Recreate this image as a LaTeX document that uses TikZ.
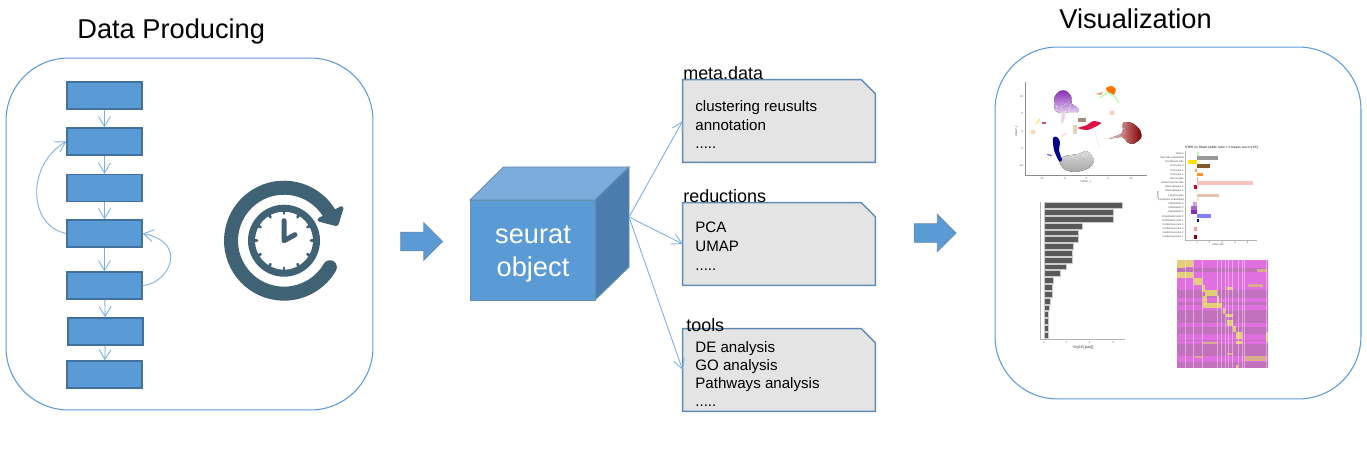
\documentclass[tikz,border=0pt]{standalone}
\usepackage{fontspec}
\setmainfont{Liberation Sans}
\usepackage{tikz}
\usetikzlibrary{arrows.meta}
\usetikzlibrary{positioning}
\usetikzlibrary{shapes.arrows}
\definecolor{boxblue}{HTML}{5B9BD5}
\definecolor{boxedge}{HTML}{41719C}
\definecolor{cubetop}{HTML}{7CACDB}
\definecolor{cubeside}{HTML}{4A7DAE}
\definecolor{notegray}{HTML}{E4E4E4}
\definecolor{noteedge}{HTML}{5F8AB4}
\definecolor{iconblue}{HTML}{3F6274}
\definecolor{heatpink}{HTML}{E070E0}
\definecolor{heatdim}{HTML}{C272BC}
\definecolor{heatyellow}{HTML}{E8DE68}
\definecolor{umappurple}{HTML}{8A30B8}
\definecolor{umapred}{HTML}{DC1444}
\tikzset{panelbox/.style = {draw=boxblue, line width = 0.6pt, rounded corners = 1.25cm, inner sep = 0}}
\tikzset{flowbox/.style = {draw=boxedge, fill=boxblue, line width = 0.8pt, minimum width = 1.5cm, minimum height = 0.54cm, inner sep = 0}}
\tikzset{flowline/.style = {draw=boxblue!80, line width = 0.5pt, -{Straight Barb[length=0.2cm,width=0.24cm]}}}
\tikzset{notebox/.style = {minimum width = 3.84cm, minimum height = 1.64cm, inner sep = 0}}
\tikzset{noteline/.style = {draw=noteedge, fill=notegray, line width = 0.8pt}}
\tikzset{bigarrow/.style = {draw=boxedge!80, fill=boxblue, single arrow, single arrow head extend = 0.19cm, single arrow head indent = 0, minimum height = 0.84cm, inner ysep = 0.18cm, inner xsep = 0}}
\tikzset{headlabel/.style = {anchor = base west, inner sep = 0, font = \fontsize{15.5}{18}\selectfont}}
\tikzset{notetitle/.style = {anchor = base west, inner sep = 0, font = \fontsize{10.2}{12}\selectfont}}
\tikzset{notetext/.style = {anchor = north west, inner sep = 0, align = left, font = \fontsize{8.6}{10.7}\selectfont}}
\tikzset{tinylab/.style = {inner sep = 0, text=black!70, font = \fontsize{1.5}{1.8}\selectfont}}
\begin{document}
\begin{tikzpicture}[x=0.02cm, y=-0.02cm]
    \useasboundingbox (0, 0) rectangle (1367, 456);
    \node [panelbox, minimum width = 7.34cm, minimum height = 7.04cm] (producing) at (189.5, 234) {};
    \node [panelbox, minimum width = 7.32cm, minimum height = 7.04cm] (visual) at (1178, 223) {};
    \node [headlabel] (producingtitle) at (77, 39) {Data Producing};
    \node [headlabel] (visualtitle) at (1059, 29) {Visualization};
    \node [flowbox] (stepa) at (104.5, 95.5) {};
    \node [flowbox] (stepb) at (104.5, 141.5) {};
    \node [flowbox] (stepc) at (104.5, 188) {};
    \node [flowbox] (stepd) at (104.5, 233.5) {};
    \node [flowbox] (stepe) at (104.5, 285.5) {};
    \node [flowbox] (stepf) at (105.5, 331.5) {};
    \node [flowbox] (stepg) at (104.5, 374.5) {};
    \foreach \from/\to in {stepa/stepb, stepb/stepc, stepc/stepd, stepd/stepe, stepe/stepf, stepf/stepg}
      \draw [flowline] (\from) -- (\to);
    \draw [flowline] (stepd.west) .. controls (28, 226) and (26, 165) .. (stepb.west);
    \draw [flowline] (stepe.east) .. controls (168, 284) and (190, 243) .. (stepd.east);
    \begin{scope}[shift={(284, 240.7)}, x=0.02cm, y=0.02cm]
      \draw [iconblue, line width = 0.28cm, line cap = round] (32:53) arc [start angle = 32, end angle = 330, radius = 1.06cm];
      \fill [iconblue, draw=iconblue, line width = 0.08cm, line join = round] (35.5, 21) -- (57.5, 32.5) -- (52.5, 16.5) -- cycle;
      \draw [iconblue, line width = 0.14cm] (0, 0) circle [radius = 0.65cm];
      \foreach \a in {0, 30, ..., 330}
        \draw [iconblue, line width = 0.055cm, line cap = round] (\a:30) -- (\a:27);
      \draw [iconblue, line width = 0.1cm, line cap = round, line join = round] (0, 20) -- (0, 0) -- (11, 6);
    \end{scope}
    \node [bigarrow] (arrowleft) at (417, 241.5) {};
    \node [bigarrow] (arrowright) at (930.5, 233) {};
    \fill [cubetop, draw=boxedge!80, line width = 0.5pt] (470, 200) -- (503.5, 167) -- (629, 167) -- (595, 200) -- cycle;
    \fill [cubeside, draw=boxedge!80, line width = 0.5pt] (595, 200) -- (629, 167) -- (629, 267) -- (595, 300) -- cycle;
    \node [draw=boxedge!80, fill=boxblue, line width = 0.5pt, minimum width = 2.5cm, minimum height = 2cm, inner sep = 0] (cube) at (532.5, 250) {};
    \node [inner sep = 0, align = center, text=white, font = \fontsize{15.5}{18.8}\selectfont] (cubetext) at (533, 254) {seurat\\object};
    \coordinate (cubeout) at (629, 217);
    \node [notebox] (meta) at (779, 121) {};
    \node [notebox] (reduc) at (779, 244) {};
    \node [notebox] (tools) at (779, 370) {};
    \foreach \n in {meta, reduc, tools}
      \draw [noteline] (\n.south west) -- (\n.north west) -- ([xshift=-0.28cm]\n.north east) -- ([yshift=-0.28cm]\n.north east) -- (\n.south east) -- cycle;
    \node [notetitle] (metatitle) at (683, 80) {meta.data};
    \node [notetitle] (reductitle) at (683, 203) {reductions};
    \node [notetitle] (toolstitle) at (686, 331.5) {tools};
    \node [notetext] (metatext) at (695, 100) {clustering reusults\\annotation\\.....};
    \node [notetext] (reductext) at (695, 222) {PCA\\UMAP\\.....};
    \node [notetext, font = \fontsize{8.6}{10.3}\selectfont] (toolstext) at (695, 341) {DE analysis\\GO analysis\\Pathways analysis\\.....};
    \foreach \to in {meta, reduc, tools}
      \draw [flowline, -{Straight Barb[length=0.2cm,width=0.22cm]}] (cubeout) -- (\to.west);
    % umap
    \draw [black!45, line width = 0.3pt] (1025, 82) -- (1025, 175) -- (1147, 175);
    \foreach \v/\y in {10/96.7, 5/114, 0/131.3, -5/148.7, -10/166}
      \node [tinylab, anchor = east] (umapy\v) at (1023.5, \y) {\v};
    \foreach \v/\x in {-10/1041.7, -5/1064.3, 0/1086.3, 5/1108.3, 10/1131}
      \node [tinylab] (umapx\v) at (\x, 179) {\v};
    \node [tinylab] (umapxlab) at (1086, 181.5) {UMAP\_1};
    \node [tinylab, rotate = 90] (umapylab) at (1016.5, 131) {UMAP\_2};
    \fill [top color=umappurple, bottom color=umappurple!25] plot [smooth cycle] coordinates {(1054, 104) (1055, 96) (1060, 91) (1066, 91) (1071, 96) (1072, 104) (1078, 108) (1078, 112) (1070, 112) (1060, 113) (1055, 110)};
    \fill [umappurple!20] plot [smooth cycle] coordinates {(1062, 112) (1066, 112) (1063, 123) (1061, 122)};
    \fill [top color=gray!30, bottom color=gray!70] plot [smooth cycle] coordinates {(1059, 160) (1065, 156) (1078, 154) (1087, 151) (1094, 160) (1089, 168) (1075, 172) (1064, 169)};
    \fill [blue!55!black] plot [smooth cycle] coordinates {(1053, 138) (1057, 137) (1060, 142) (1059, 150) (1062, 160) (1059, 161) (1054, 150)};
    \fill [blue!60] plot [smooth cycle] coordinates {(1047, 154) (1052, 155) (1051, 156) (1047, 155)};
    \fill [left color=red!15, right color=red!50!black] plot [smooth cycle] coordinates {(1123, 123) (1132, 123) (1140, 130) (1141, 138) (1133, 144) (1127, 142) (1122, 137) (1108, 139) (1122, 133)};
    \fill [umapred] plot [smooth cycle] coordinates {(1078, 128) (1087, 125) (1093, 121) (1101, 123) (1095, 127) (1087, 130)};
    \fill [orange!90!red] plot [smooth cycle] coordinates {(1106, 88) (1112, 86) (1116, 90) (1113, 95) (1108, 92)};
    \draw [green!30, line width = 0.8pt] plot [smooth] coordinates {(1100, 98) (1108, 93) (1115, 97) (1119, 103)};
    \fill [brown!70] (1095, 94) -- (1103, 92) -- (1101, 95) -- cycle;
    \fill [red!20] (1112, 113) circle [radius = 2.5];
    \fill [orange!30] (1033, 132) circle [radius = 2.5];
    \draw [yellow!80!orange, line width = 0.4pt] (1036, 124) -- (1040, 119);
    \fill [purple!70] (1042, 122.5) rectangle (1046, 124);
    \fill [brown!50!black, opacity = 0.6] (1078, 118) rectangle (1086, 122);
    \fill [brown!50, opacity = 0.7] (1073, 125) rectangle (1077, 134);
    \draw [red!25, line width = 0.3pt] (1061, 136) -- (1067, 133);
    \draw [red!15, line width = 0.3pt] (1094, 130) -- (1100, 148);
    \pgfmathsetseed{3}
    \foreach \xa/\ya/\w/\h in {1054/102/26/12, 1060/150/34/10, 1108/122/18/24}
      \foreach \i in {1, ..., 50}
        \fill [white, opacity = 0.6] ({\xa + rnd * \w}, {\ya + rnd * \h}) circle [radius = 0.5];
    % bars
    \draw [black!30, line width = 0.5pt] (1040.7, 202) -- (1040.7, 339) -- (1125, 339);
    \foreach \e [count=\i] in {307, 281, 281, 187, 175, 175, 161, 157, 157, 139, 120, 100, 98, 97, 92, 89, 86, 85, 85, 84}
      \fill [black!65, draw=black!20, line width = 0.2pt] (1044, {195 + (31 + 20.47 * (\i - 1) - 8.7) / 3}) rectangle ({1020 + \e / 3}, {195 + (31 + 20.47 * (\i - 1) + 8.7) / 3});
    \foreach \v/\x in {0/1044, 1/1066.7, 2/1089.7, 3/1113}
      \node [tinylab] (barx\v) at (\x, 342.5) {\v};
    \node [tinylab, font = \fontsize{2.3}{2.7}\selectfont] (barxlab) at (1083, 347) {-log10(padj)};
    % odds
    \node [tinylab, font = \bfseries\fontsize{1.8}{2.2}\selectfont] (oddstitle) at (1221.5, 148) {STPK vs Sham (odds ratio > 1 means more STK)};
    \draw [black!30, line width = 0.3pt] (1185.3, 151) -- (1185.3, 240) -- (1256.7, 240);
    \foreach \x/\colr/\lab [count=\i] in {1199/green!30/Visium, 1218/gray!80/Vascular endothelial, 1188.3/yellow!85!orange/Red blood cells, 1210.3/brown!70!black/Pericytes 3, 1195.3/orange!60!pink/Pericytes 2, 1202.7/orange!85/Pericytes 1, 1198/brown!60/Neurocytes, 1253.3/red!25/Mesenchymal cells, 1194/purple!80!red/Macrophages 2, 1196.3/pink!60/Macrophages 1, 1219/brown!45!white/Lymphocytes, 1198.7/orange!25/Lymphatic endothelial, 1192.7/umappurple!45/Fibroblasts 3, 1191/umappurple!75/Fibroblasts 2, 1190.7/umappurple/Fibroblasts 1, 1211.3/blue!50/Endothelial cells 2, 1199/blue!50!black/Endothelial cells 1, 1197/white/Cardiomyocytes 4, 1193.7/red!40/Cardiomyocytes 3, 1197/white/Cardiomyocytes 2, 1194/red!50!black/Cardiomyocytes 1} {
      \fill [\colr] (1197, {153.7 + 4.167 * (\i - 1) - 1.85}) rectangle (\x, {153.7 + 4.167 * (\i - 1) + 1.85});
      \node [tinylab, anchor = east] (oddslab\i) at (1184, {153.7 + 4.167 * (\i - 1)}) {\lab};
    }
    \foreach \v/\x in {1/1197, 2/1209.7, 3/1222.3, 4/1235, 5/1247.7}
      \node [tinylab] (oddsx\v) at (\x, 242.5) {\v};
    \node [tinylab] (oddsxlab) at (1218, 245) {odds ratio};
    \node [tinylab, rotate = 90] (oddsylab) at (1157.7, 195.7) {Cluster};
    % heatmap
    \begin{scope}[shift={(1170, 255)}, x=0.00667cm, y=-0.00667cm]
      \fill [heatpink] (22, 15) rectangle (293, 338);
      \foreach \a/\b in {40/52, 105/130, 140/150, 165/205, 215/238, 255/258, 266/303, 320/338}
        \fill [heatdim] (22, \a) rectangle (293, \b);
      \foreach \xa/\ya/\xb/\yb in {22/15/45/40, 45/15/70/35, 22/52/70/68, 72/70/95/90, 95/90/105/110, 105/105/140/122, 100/122/112/150, 100/145/155/158, 142/122/148/145, 170/97/190/104, 158/158/165/178, 168/178/190/185, 172/195/190/212, 190/213/197/230, 197/232/215/252, 197/258/215/266, 288/232/293/262, 197/330/205/338}
        \fill [heatyellow, opacity = 0.85] (\xa, \ya) rectangle (\xb, \yb);
      \foreach \xa/\ya/\xb/\yb in {225/304/288/318, 75/303/95/310, 170/293/190/300, 235/88/280/95, 260/42/290/50, 100/260/140/266}
        \fill [heatyellow!55!heatdim] (\xa, \ya) rectangle (\xb, \yb);
      \foreach \x in {45, 70, 95, 142, 152, 165, 175, 185, 205, 215, 222, 288}
        \fill [white, opacity = 0.4] (\x, 15) rectangle (\x + 3, 338);
    \end{scope}
\end{tikzpicture}
\end{document}
